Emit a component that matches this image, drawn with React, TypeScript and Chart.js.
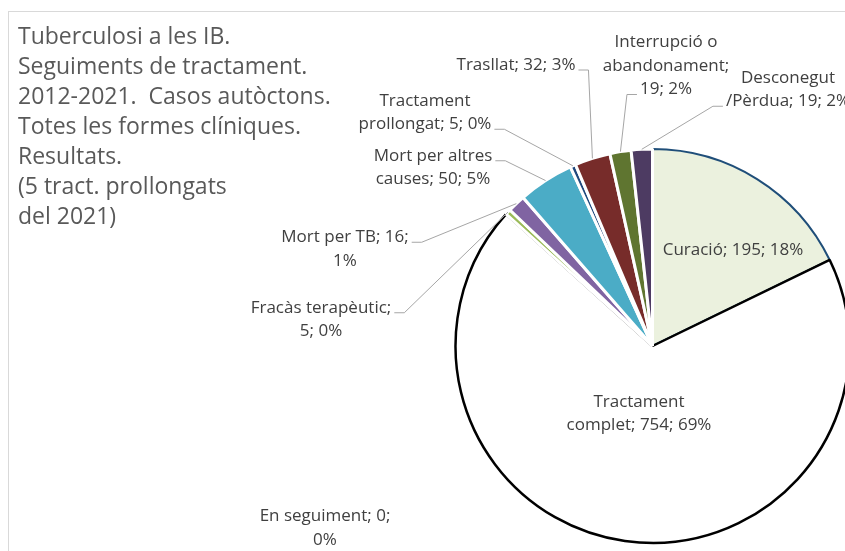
import React, { useEffect, useRef } from "react";
import { Chart, registerables } from "chart.js";

Chart.register(...registerables);

// ---- data ----
const categories = [
  "Curació",
  "Tractament complet",
  "En seguiment",
  "Fracàs terapèutic",
  "Mort per TB",
  "Mort per altres causes",
  "Tractament prollongat",
  "Trasllat",
  "Interrupció o abandonament",
  "Desconegut /Pèrdua",
];
const values = [195, 754, 0, 5, 16, 50, 5, 32, 19, 19];
const titleLines = [
  "Tuberculosi a les IB.",
  "Seguiments de tractament.",
  "2012-2021.  Casos autòctons.",
  "Totes les formes clíniques.",
  "Resultats.",
  "(5 tract. prollongats",
  "del 2021)",
];

// ---- styles ----
const fillColors = [
  "#EBF1DE",
  "#FFFFFF",
  "#FFFFFF",
  "#9BBB59",
  "#8064A2",
  "#4BACC6",
  "#1F497D",
  "#772C2A",
  "#5F7530",
  "#4D3B62",
];
const borderColors = [
  "#1F4E79",
  "#000000",
  "#FFFFFF",
  "#FFFFFF",
  "#FFFFFF",
  "#FFFFFF",
  "#FFFFFF",
  "#FFFFFF",
  "#FFFFFF",
  "#FFFFFF",
];
const borderWidths = [2, 2.5, 3, 3, 3, 3, 3, 3, 3, 3];

// label layout: offset of the text block centre from pie centre, words per line,
// leader side ('R' = leader leaves to the right, 'L' to the left, '' none), leader line index
const labelLayout = [
  { dx: 80.5, dy: -96, words: [3], side: "", line: 0 },
  { dx: -13.5, dy: 67.5, words: [1, 3], side: "", line: 0 },
  { dx: -327.5, dy: 182, words: [3, 1], side: "", line: 0 },
  { dx: -331.5, dy: -26.5, words: [2, 2], side: "R", line: 0 },
  { dx: -307.5, dy: -97, words: [4, 1], side: "R", line: 0 },
  { dx: -219.5, dy: -178.5, words: [3, 3], side: "R", line: 0 },
  { dx: -227.5, dy: -233.5, words: [1, 3], side: "R", line: 1 },
  { dx: -136.5, dy: -281, words: [3], side: "R", line: 0 },
  { dx: 13.5, dy: -280, words: [2, 1, 2], side: "L", line: 2 },
  { dx: 135.5, dy: -256.5, words: [1, 3], side: "L", line: 1 },
];

const W = 845;
const H = 551;
const FONT = '"Open Sans", "Noto Sans", sans-serif';
const LABEL_LH = 23.5;

const total = values.reduce((a, b) => a + b, 0);

function labelLines(i: number): string[] {
  const pct = Math.round((values[i] / total) * 100);
  const text = `${categories[i]}; ${values[i]}; ${pct}%`;
  const words = text.split(" ").filter((w) => w.length > 0);
  const lines: string[] = [];
  let k = 0;
  for (const n of labelLayout[i].words) {
    lines.push(words.slice(k, k + n).join(" "));
    k += n;
  }
  if (k < words.length) lines[lines.length - 1] += " " + words.slice(k).join(" ");
  return lines;
}

const decorPlugin = {
  id: "decor",
  beforeDraw(chart: any) {
    const ctx = chart.ctx;
    ctx.save();
    ctx.fillStyle = "#FFFFFF";
    ctx.fillRect(0, 0, chart.width, chart.height);
    ctx.strokeStyle = "#D9D9D9";
    ctx.lineWidth = 1;
    ctx.strokeRect(8.5, 11.5, chart.width + 20, chart.height + 20);
    ctx.restore();
  },
  afterDraw(chart: any) {
    const ctx = chart.ctx;
    const meta = chart.getDatasetMeta(0);
    ctx.save();
    // title
    ctx.font = `23px ${FONT}`;
    ctx.fillStyle = "#595959";
    ctx.textAlign = "left";
    ctx.textBaseline = "middle";
    titleLines.forEach((t, i) => ctx.fillText(t, 18, 37 + i * 30));

    // labels
    ctx.font = `17px ${FONT}`;
    meta.data.forEach((arc: any, i: number) => {
      const p = arc.getProps(["x", "y", "startAngle", "endAngle", "outerRadius"], true);
      const lay = labelLayout[i];
      const lines = labelLines(i);
      const bx = p.x + lay.dx;
      const by = p.y + lay.dy;
      const y0 = by - ((lines.length - 1) * LABEL_LH) / 2;
      ctx.fillStyle = "#404040";
      ctx.textAlign = "center";
      ctx.textBaseline = "middle";
      lines.forEach((l, j) => ctx.fillText(l, bx, y0 + j * LABEL_LH));
      if (lay.side) {
        const lw = ctx.measureText(lines[lay.line]).width;
        const ay = y0 + lay.line * LABEL_LH + 5;
        const ax = lay.side === "R" ? bx + lw / 2 + 3 : bx - lw / 2 - 3;
        const ex = lay.side === "R" ? ax + 10 : ax - 10;
        const mid = (p.startAngle + p.endAngle) / 2;
        const tx = p.x + Math.cos(mid) * p.outerRadius;
        const ty = p.y + Math.sin(mid) * p.outerRadius;
        ctx.strokeStyle = "#A6A6A6";
        ctx.lineWidth = 1;
        ctx.beginPath();
        ctx.moveTo(ax, ay);
        ctx.lineTo(ex, ay);
        ctx.lineTo(tx, ty);
        ctx.stroke();
      }
    });
    ctx.restore();
  },
};

export default function App() {
  const ref = useRef<HTMLCanvasElement | null>(null);
  useEffect(() => {
    if (!ref.current) return;
    const chart = new Chart(ref.current, {
      type: "pie",
      data: {
        labels: categories,
        datasets: [
          {
            data: values,
            backgroundColor: fillColors,
            borderColor: borderColors,
            borderWidth: borderWidths,
            clip: false,
          } as any,
        ],
      },
      options: {
        responsive: false,
        animation: false,
        devicePixelRatio: 1,
        radius: 197,
        layout: { padding: { left: 460, right: 0, top: 141, bottom: 0 } },
        plugins: {
          legend: { display: false },
          tooltip: { enabled: false },
        },
        events: [],
      } as any,
      plugins: [decorPlugin],
    });
    return () => chart.destroy();
  }, []);
  return (
    <div style={{ position: "absolute", left: 0, top: 0, width: W, height: H, overflow: "hidden" }}>
      <canvas ref={ref} width={W} height={H} style={{ width: W, height: H, display: "block" }} />
    </div>
  );
}
